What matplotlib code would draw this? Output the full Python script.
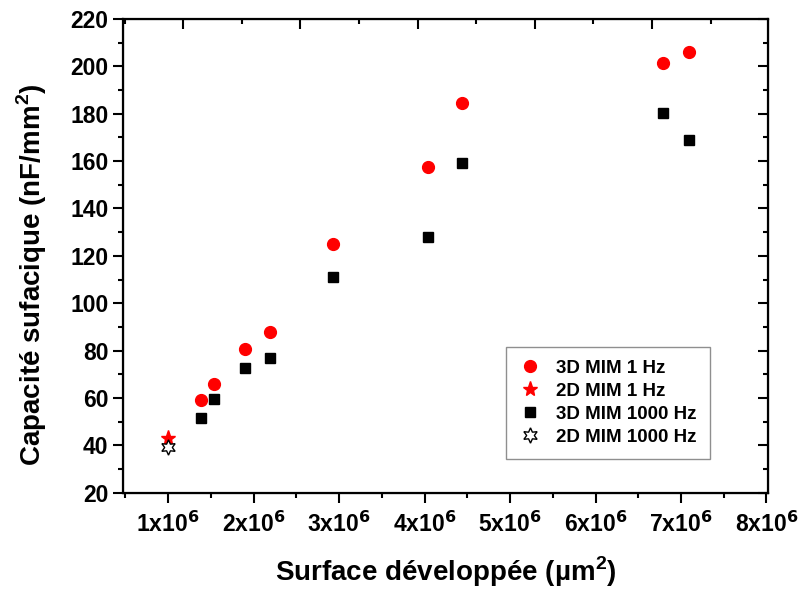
import matplotlib.pyplot as plt
from matplotlib.ticker import MultipleLocator

plt.rcParams['font.family'] = ['Liberation Sans', 'DejaVu Sans']
plt.rcParams['mathtext.default'] = 'bf'

# surface (um^2) and capacitance (nF/mm^2)
x_3d_1hz = [1.38e6, 1.54e6, 1.90e6, 2.19e6, 2.93e6, 4.04e6, 4.44e6, 6.79e6, 7.09e6]
y_3d_1hz = [59.1, 65.9, 80.7, 87.7, 124.9, 157.4, 184.5, 201.6, 205.9]
x_2d_1hz = [1.0e6]
y_2d_1hz = [43.0]
x_3d_1khz = [1.38e6, 1.54e6, 1.90e6, 2.19e6, 2.93e6, 4.04e6, 4.44e6, 6.79e6, 7.09e6]
y_3d_1khz = [51.4, 59.6, 72.8, 77.0, 111.2, 128.1, 159.1, 180.4, 168.9]
x_2d_1khz = [1.0e6]
y_2d_1khz = [39.4]

xticks = [1e6, 2e6, 3e6, 4e6, 5e6, 6e6, 7e6, 8e6]
xticklabels = ['%dx10$^{6}$' % int(v / 1e6) for v in xticks]

fig = plt.figure(figsize=(8, 5.91), dpi=100)
ax = fig.add_axes([0.154, 0.1663, 0.806, 0.8016])

ax.plot(x_3d_1hz, y_3d_1hz, 'o', color='#ff0000', ms=8.5, mec='#ff0000', label='3D MIM 1 Hz')
ax.plot(x_2d_1hz, y_2d_1hz, '*', color='#ff0000', ms=11, mec='#ff0000', label='2D MIM 1 Hz')
ax.plot(x_3d_1khz, y_3d_1khz, 's', color='black', ms=7.5, label='3D MIM 1000 Hz')
ax.plot(x_2d_1khz, y_2d_1khz, marker=(6, 1, 0), ls='none', mfc='white', mec='black',
        mew=1.0, ms=11, label='2D MIM 1000 Hz')

ax.set_xlim(0.474e6, 8.018e6)
ax.set_ylim(20, 220)
ax.set_xticks(xticks)
ax.set_xticklabels(xticklabels)
ax.xaxis.set_minor_locator(MultipleLocator(0.5e6))
ax.yaxis.set_major_locator(MultipleLocator(20))
ax.yaxis.set_minor_locator(MultipleLocator(10))

for s in ax.spines.values():
    s.set_linewidth(1.6)
ax.tick_params(which='major', direction='out', length=7.5, width=1.5,
               labelsize=16.5, pad=3)
ax.tick_params(axis='x', which='major', pad=6)
ax.tick_params(which='minor', direction='out', length=3.8, width=1.5)
ax.tick_params(axis='y', which='both', right=True)
for lab in ax.get_xticklabels() + ax.get_yticklabels():
    lab.set_fontweight('bold')

# right side ticks point inward
for t in ax.yaxis.get_major_ticks() + ax.yaxis.get_minor_ticks():
    t.tick2line.set_marker(0)

# top axis, Origin-style, unlabeled
ax2 = ax.twiny()
ax2.set_xlim(-0.512, 4.99)
ax2.xaxis.set_major_locator(MultipleLocator(1))
ax2.xaxis.set_minor_locator(MultipleLocator(0.5))
ax2.tick_params(which='major', direction='in', length=7.5, width=1.5, labeltop=False)
ax2.tick_params(which='minor', direction='in', length=3.8, width=1.5)

ax.set_xlabel('Surface développée (µm$^{\\mathregular{2}}$)', fontsize=20,
              fontweight='bold', labelpad=13)
ax.set_ylabel('Capacité sufacique (nF/mm$^{\\mathregular{2}}$)', fontsize=20,
              fontweight='bold')
ax.yaxis.set_label_coords(-0.115, 0.46)

leg = ax.legend(loc='upper left', bbox_to_anchor=(0.594, 0.308), frameon=True,
                fancybox=False, edgecolor='0.45', prop={'weight': 'bold', 'size': 13.5},
                handlelength=1.2, handletextpad=0.8, borderpad=0.68, labelspacing=0.32,
                borderaxespad=0)
leg.get_frame().set_linewidth(1.0)

fig.savefig('out.png', dpi=100)
